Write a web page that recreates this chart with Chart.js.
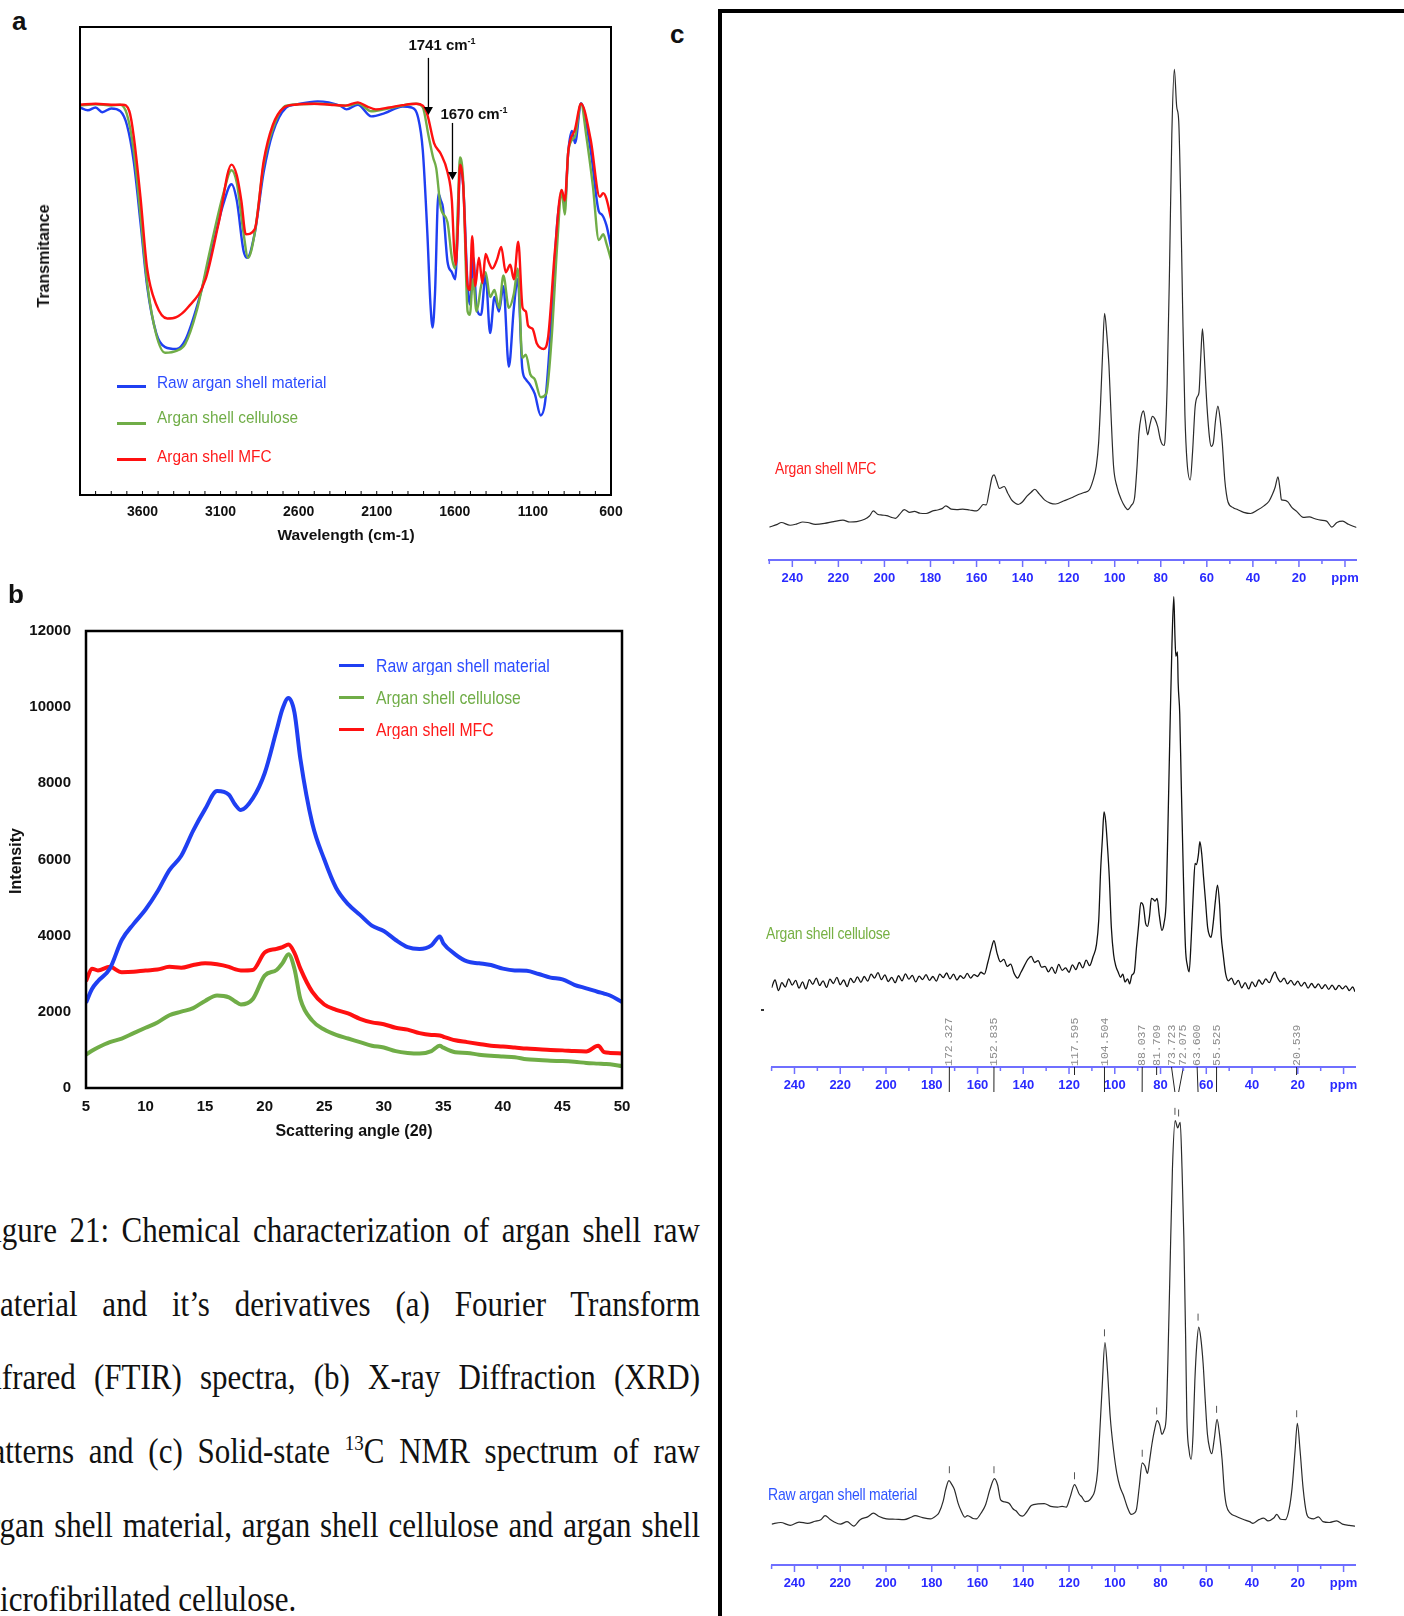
<!DOCTYPE html>
<html lang="en">
<head>
<meta charset="utf-8">
<title>Figure 21 - argan shell characterization</title>
<script src="https://cdn.jsdelivr.net/npm/chart.js@4.4.1/dist/chart.umd.min.js"></script>
<style>
  html, body { margin: 0; padding: 0; background: #fff; }
  body { width: 1404px; height: 1616px; position: relative; overflow: hidden; font-family: "Liberation Sans", Arial, sans-serif; color: #111; }
  canvas { position: absolute; }
  .t { position: absolute; white-space: nowrap; }
  .panel { font-weight: bold; font-size: 26px; line-height: 26px; }
  .ctr { transform: translate(-50%, -50%); }
  .vert { transform: translate(-50%, -50%) rotate(-90deg); }
  .ttl { font-weight: bold; font-size: 16px; line-height: 18px; }
  .leg { font-size: 15.4px; line-height: 18px; transform: scaleY(1.12); transform-origin: 0 50%; }
  .sw { position: absolute; height: 3px; }
  .spec { font-size: 14px; line-height: 16px; letter-spacing: -0.2px; transform: scaleY(1.2); transform-origin: 0 50%; }
  .note { font-weight: bold; font-size: 15px; line-height: 18px; }
  .note sup { font-size: 9px; line-height: 0; vertical-align: 6px; }
  .cap { position: absolute; left: -24px; width: 724px; font-family: "Liberation Serif", "Times New Roman", serif;
         font-size: 31px; line-height: 31px; text-align: justify; text-align-last: justify;
         transform: scaleY(1.15); transform-origin: 0 26px; }
  .cap.last { text-align-last: left; }
  .cap sup { font-size: 19px; line-height: 0; vertical-align: 11px; }
</style>
</head>
<body>

<canvas id="ftirChart" width="600" height="560" style="left:40px;top:0px"></canvas>
<canvas id="xrdChart" width="650" height="540" style="left:0px;top:600px"></canvas>
<canvas id="nmrMfcChart" width="627" height="570" style="left:749px;top:20px"></canvas>
<canvas id="nmrCelChart" width="623" height="515" style="left:752px;top:582px"></canvas>
<canvas id="nmrRawChart" width="623" height="505" style="left:752px;top:1090px"></canvas>

<!-- panel c frame -->
<div style="position:absolute;left:718px;top:9px;width:700px;height:1620px;border-top:4px solid #000;border-left:4px solid #000;box-sizing:border-box"></div>

<div class="t panel" style="left:12px;top:8px">a</div>
<div class="t panel" style="left:8px;top:581px">b</div>
<div class="t panel" style="left:670px;top:21px">c</div>

<!-- panel a texts -->
<div class="t ttl vert" style="left:44px;top:256px">Transmitance</div>
<div class="t ttl ctr" style="left:346px;top:535px;font-size:15.5px">Wavelength (cm-1)</div>
<div class="t note ctr" style="left:442px;top:45px">1741 cm<sup>-1</sup></div>
<div class="t note ctr" style="left:474px;top:114px">1670 cm<sup>-1</sup></div>

<div class="sw" style="left:117px;top:385px;width:29px;background:#1f3ff2"></div>
<div class="sw" style="left:117px;top:422px;width:29px;background:#70ad47"></div>
<div class="sw" style="left:117px;top:458px;width:29px;background:#ff1010"></div>
<div class="t leg" style="left:157px;top:373px;color:#2c4cff">Raw argan shell material</div>
<div class="t leg" style="left:157px;top:408px;color:#70ad47">Argan shell cellulose</div>
<div class="t leg" style="left:157px;top:447px;color:#ff1a1a">Argan shell MFC</div>

<!-- panel b texts -->
<div class="t ttl vert" style="left:16px;top:861px">Intensity</div>
<div class="t ttl ctr" style="left:354px;top:1131px">Scattering angle (2θ)</div>
<div class="sw" style="left:339px;top:664px;width:25px;background:#1f3ff2"></div>
<div class="sw" style="left:339px;top:696px;width:25px;background:#70ad47"></div>
<div class="sw" style="left:339px;top:728px;width:25px;background:#ff1010"></div>
<div class="t leg" style="left:376px;top:657px;font-size:15.8px;color:#2c4cff">Raw argan shell material</div>
<div class="t leg" style="left:376px;top:689px;font-size:15.8px;color:#70ad47">Argan shell cellulose</div>
<div class="t leg" style="left:376px;top:721px;font-size:15.8px;color:#ff1a1a">Argan shell MFC</div>

<!-- panel c texts -->
<div class="t spec" style="left:775px;top:460px;color:#ff2020">Argan shell MFC</div>
<div class="t spec" style="left:766px;top:925px;color:#76b043">Argan shell cellulose</div>
<div class="t spec" style="left:768px;top:1486px;color:#2f55ff">Raw argan shell material</div>
<div style="position:absolute;left:761px;top:1009px;width:3px;height:1.5px;background:#333"></div>

<!-- caption -->
<div class="cap" style="top:1216px">Figure 21: Chemical characterization of argan shell raw</div>
<div class="cap" style="top:1290px">material and it’s derivatives (a) Fourier Transform</div>
<div class="cap" style="top:1363px">Infrared (FTIR) spectra, (b) X-ray Diffraction (XRD)</div>
<div class="cap" style="top:1437px">patterns and (c) Solid-state <sup>13</sup>C NMR spectrum of raw</div>
<div class="cap" style="top:1511px">argan shell material, argan shell cellulose and argan shell</div>
<div class="cap last" style="top:1585px">microfibrillated cellulose.</div>

<script>
// ---------- (a) FTIR: wavenumber (cm-1) and transmittance (arbitrary units) ----------
const ftirRawWn = [4000, 3950, 3900, 3857, 3800, 3742, 3699, 3656, 3613, 3570, 3512, 3455, 3383, 3326, 3254, 3168, 3082, 3030, 2996, 2953,
  2930, 2881, 2824, 2766, 2680, 2623, 2479, 2336, 2293, 2221, 2135, 2049, 1934, 1877, 1834, 1805, 1776, 1756, 1742, 1727,
  1705, 1690, 1676, 1647, 1619, 1598, 1580, 1567, 1546, 1518, 1504, 1481, 1461, 1432, 1403, 1374, 1346, 1317, 1289, 1254,
  1222, 1197, 1168, 1145, 1117, 1088, 1050, 1021, 987, 944, 916, 896, 873, 850, 830, 792, 730, 678, 658, 629, 600];
const ftirRawT = [82.8, 82.2, 82.8, 81.8, 82.6, 82.0, 79.0, 71.3, 58.3, 44.6, 34.6, 31.6, 31.2, 33.1, 40.0, 50.7, 62.2, 66.4, 62.9, 52.2,
  50.7, 56.0, 69.0, 77.4, 82.8, 83.4, 84.1, 83.2, 82.4, 83.4, 80.9, 81.6, 83.0, 82.8, 80.5, 73.6, 56.0, 40.7, 35.8, 43.0,
  64.4, 63.0, 61.4, 49.9, 47.6, 46.1, 58.0, 69.8, 66.0, 44.6, 40.7, 50.7, 40.0, 38.5, 46.9, 34.6, 42.3, 39.2, 44.6, 27.4,
  40.0, 46.1, 27.0, 24.7, 23.5, 21.6, 17.0, 20.1, 34.6, 58.3, 64.4, 62.0, 73.6, 77.8, 75.2, 83.7, 73.6, 60.6, 59.9, 57.6, 53.0];

const ftirCelWn = [4000, 3900, 3800, 3742, 3699, 3656, 3613, 3570, 3512, 3455, 3383, 3326, 3254, 3168, 3082, 3030, 2996, 2953, 2924, 2881,
  2824, 2766, 2680, 2479, 2279, 2221, 2135, 2049, 1848, 1805, 1768, 1739, 1719, 1690, 1647, 1619, 1598, 1580, 1567, 1546,
  1518, 1504, 1484, 1461, 1432, 1403, 1374, 1346, 1317, 1289, 1254, 1222, 1197, 1168, 1145, 1117, 1088, 1050, 1015, 981,
  944, 916, 896, 873, 830, 792, 758, 716, 678, 649, 629, 600];
const ftirCelT = [83.2, 83.5, 83.2, 83.4, 81.3, 73.6, 59.9, 45.3, 34.3, 30.4, 30.8, 32.3, 39.2, 52.2, 64.4, 69.4, 66.7, 56.0, 50.7, 56.0,
  70.6, 78.2, 83.2, 83.6, 83.2, 83.7, 82.0, 82.4, 83.6, 82.8, 76.7, 72.1, 69.8, 61.4, 58.3, 50.7, 48.4, 62.0, 72.1, 67.0,
  39.2, 38.5, 46.1, 39.2, 44.6, 47.6, 42.3, 43.8, 40.0, 46.9, 40.0, 43.0, 48.4, 29.3, 30.0, 25.8, 24.7, 20.9, 21.6, 33.1,
  53.7, 65.2, 59.9, 73.6, 76.7, 83.6, 76.7, 66.0, 54.5, 55.7, 53.7, 50.3];

const ftirMfcWn = [4000, 3900, 3800, 3727, 3684, 3656, 3613, 3570, 3512, 3441, 3383, 3311, 3197, 3111, 3030, 2996, 2967, 2938, 2881, 2824,
  2766, 2694, 2623, 2500, 2400, 2300, 2221, 2160, 2106, 2020, 1934, 1848, 1805, 1776, 1733, 1690, 1647, 1619, 1604, 1594,
  1582, 1567, 1556, 1546, 1518, 1504, 1489, 1469, 1446, 1423, 1403, 1380, 1360, 1330, 1303, 1274, 1245, 1222, 1194, 1166,
  1145, 1131, 1102, 1074, 1031, 1002, 959, 916, 896, 873, 830, 792, 730, 672, 650, 629, 600];
const ftirMfcT = [83.4, 83.6, 83.4, 83.4, 82.0, 76.7, 63.7, 48.4, 40.7, 37.7, 38.0, 40.0, 46.0, 58.3, 70.6, 68.3, 62.9, 55.7, 56.8, 71.3,
  79.0, 82.8, 83.4, 83.6, 83.4, 83.2, 83.9, 83.0, 82.4, 82.8, 83.3, 83.6, 83.2, 81.3, 75.2, 72.9, 69.0, 62.9, 52.2, 49.2,
  56.0, 70.6, 69.5, 66.0, 44.6, 43.8, 55.3, 44.6, 50.7, 45.3, 51.5, 49.5, 48.4, 50.3, 53.0, 47.6, 49.2, 46.1, 54.1, 40.0,
  39.2, 36.2, 35.5, 32.3, 31.2, 33.9, 52.2, 65.2, 62.9, 73.6, 78.2, 83.6, 75.9, 63.7, 64.5, 63.3, 59.1];

// arrows for the 1741 / 1670 cm-1 callouts (wavenumber, start and tip in transmittance units)
const ftirArrowWn = [1769, 1615];
const ftirArrowFrom = [93.4, 79.5];
const ftirArrowTo = [81.2, 67.3];

// ---------- (b) XRD: scattering angle 2θ and intensity ----------
const xrdAngle = [5, 5.5, 6, 7, 8, 9, 10, 11, 12, 13, 14, 15, 16, 17, 17.5, 18, 19, 20, 21, 21.5,
  22, 22.5, 23, 24, 25, 26, 27, 28, 29, 30, 31, 32, 33, 34, 34.7, 35, 36, 37, 38, 39,
  40, 41, 42, 43, 44, 45, 46, 47, 48, 48.5, 49, 50];
const xrdRaw = [2240, 2600, 2805, 3134, 3887, 4310, 4687, 5158, 5722, 6099, 6758, 7323, 7800, 7700, 7450, 7300, 7605, 8264, 9393, 9958,
  10240, 9864, 8640, 6946, 6005, 5252, 4828, 4546, 4264, 4122, 3887, 3699, 3652, 3746, 3981, 3800, 3511, 3322, 3275, 3228,
  3134, 3087, 3080, 2993, 2899, 2852, 2711, 2617, 2522, 2480, 2428, 2259];
const xrdCellulose = [875, 980, 1064, 1205, 1299, 1440, 1581, 1722, 1911, 2005, 2099, 2287, 2428, 2381, 2280, 2193, 2334, 2950, 3100, 3280,
  3511, 3134, 2334, 1769, 1534, 1393, 1299, 1205, 1111, 1064, 969, 922, 904, 969, 1111, 1060, 941, 922, 875, 847,
  828, 809, 753, 734, 715, 706, 687, 659, 640, 630, 621, 574];
const xrdMfc = [2805, 3134, 3087, 3181, 3040, 3050, 3087, 3110, 3181, 3160, 3228, 3275, 3250, 3180, 3120, 3087, 3100, 3558, 3652, 3700,
  3765, 3550, 3134, 2522, 2193, 2052, 1958, 1816, 1722, 1675, 1581, 1534, 1440, 1393, 1380, 1346, 1252, 1205, 1158, 1111,
  1092, 1064, 1035, 1016, 998, 988, 969, 960, 1111, 940, 922, 904];

// ---------- (c) 13C NMR: [ppm, relative intensity] ----------
const nmrMfc = [[250, 0.8], [246.5, 1.4], [244.8, 1.8], [241, 1.2], [238, 1.5], [235.5, 1.9], [233.3, 1.8], [230, 1.4], [226, 1.6], [222, 2.0],
  [218, 2.3], [215, 1.9], [212, 2.0], [208.6, 2.5], [206.5, 3.2], [204.8, 4.3], [203, 3.6], [201, 3.4], [199, 3.3], [197, 2.9],
  [195.2, 2.7], [193.5, 3.5], [191.4, 4.6], [189, 4.0], [187, 4.2], [184.5, 3.8], [181.9, 3.75], [179, 4.3], [177, 4.5], [175, 4.8],
  [173.3, 5.4], [171, 4.7], [168.6, 4.6], [166, 4.7], [163, 4.5], [160, 4.3], [158.5, 4.9], [157.1, 5.7], [155.8, 5.6], [154.5, 8.5],
  [153.3, 11.5], [152.4, 12.1], [151.3, 10.8], [150.1, 9.2], [148, 9.6], [146.5, 8.2], [144.8, 6.7], [143, 5.9], [141.9, 5.7], [140, 6.3],
  [138.1, 7.5], [136.2, 8.4], [134.7, 9.0], [132.8, 8.0], [130.5, 6.7], [128, 6.0], [125.7, 5.8], [122, 6.5], [119, 7.1], [116, 7.8],
  [113.3, 8.3], [111, 8.9], [109.5, 10.8], [108, 14], [107, 19], [106.2, 27], [105.3, 38], [104.4, 47.1], [103.5, 43], [102.5, 35.8],
  [101.5, 24], [100.5, 14], [99, 9.5], [97.1, 6.7], [95.5, 5.2], [94.3, 4.6], [92.8, 5.5], [91.4, 7.1], [90.3, 14], [89.5, 21],
  [88.6, 24.5], [87.5, 26], [86.7, 24], [85.7, 20.8], [84.7, 23], [83.6, 24.8], [82.5, 24.2], [81.3, 22.5], [80.3, 20], [79.4, 18.75],
  [78.5, 18.5], [78.1, 20], [77.2, 32], [76.2, 56.7], [75.2, 85.8], [74.1, 100], [73.1, 92], [72.2, 88.75], [71.4, 73], [70.5, 48.3],
  [69.5, 25], [68.6, 15], [67.2, 11], [66.2, 17], [65.1, 26.7], [64.2, 29], [63.4, 30], [62.6, 38], [61.9, 43.75], [61.2, 39],
  [60.5, 32], [60, 27.5], [58.8, 20], [58.1, 18.3], [57.2, 19], [56.2, 24], [55.2, 27], [54.3, 24.5], [53.3, 19.2], [52.2, 11],
  [51.5, 8], [50.8, 6.25], [48.5, 5.0], [46.7, 4.6], [44, 4.0], [41, 3.75], [38, 4.5], [35.2, 5.4], [33, 6.4], [31.5, 7.9],
  [30.3, 9.5], [29.1, 11.7], [28.2, 9], [27.6, 6.7], [26, 6.6], [24.8, 6.25], [23, 5.0], [21, 4.2], [18.1, 2.9], [15.5, 3.0],
  [13, 2.6], [10.5, 2.3], [8, 2.1], [5.7, 0.8], [3.5, 1.8], [1, 2.1], [-1.5, 1.4], [-5, 0.7]];

const nmrCel = [[250, -0.5], [248.5, 1.5], [247, -1.2], [245.5, 0.8], [244, -0.3], [242.5, 1.8], [241, 0.2], [239.5, 1.4], [238, -0.6], [236.5, 1.0],
  [235, -0.8], [233.5, 1.6], [232, 0.4], [230.5, 2.0], [229, 0.1], [227.5, 1.3], [226, -0.4], [224.5, 1.7], [223, 0.6], [221.5, 2.2],
  [220, 0.3], [218.5, 1.5], [217, -0.2], [215.5, 1.9], [214, 0.8], [212.5, 2.3], [211, 0.9], [209.5, 2.4], [208, 1.2], [206.5, 3.0],
  [205, 2.0], [203.5, 3.4], [202, 1.6], [200.5, 2.8], [199, 1.1], [197.5, 2.2], [196, 0.8], [194.5, 2.6], [193, 1.3], [191.5, 3.1],
  [190, 1.7], [188.5, 2.7], [187, 1.0], [185.5, 2.5], [184, 1.6], [182.5, 2.9], [181, 1.4], [179.5, 2.4], [178, 1.2], [176.5, 3.0],
  [175, 2.1], [173.5, 3.3], [172, 1.8], [170.5, 3.0], [169, 1.5], [167.5, 2.6], [166, 1.9], [164.5, 3.2], [163, 2.0], [161.5, 2.9],
  [160, 2.4], [158.5, 3.5], [157, 3.0], [155.5, 6.0], [154, 9.5], [152.8, 11.6], [151.5, 8.5], [150, 6.2], [148.5, 6.8], [147, 5.0],
  [145.5, 5.6], [144, 3.2], [142.5, 2.0], [141, 3.5], [139.5, 5.2], [138, 6.8], [136.5, 7.6], [135, 6.0], [133.5, 6.5], [132, 4.8],
  [130.5, 5.0], [129, 3.6], [127.5, 4.8], [126, 3.2], [124.5, 5.5], [123, 4.0], [121.5, 4.6], [120, 3.5], [118.5, 5.4], [117, 4.2],
  [115.5, 6.0], [114, 4.6], [112.5, 6.6], [111, 5.2], [109.5, 7.5], [108, 10.6], [107, 17], [106.2, 29.5], [105.4, 38], [104.7, 44.8],
  [104, 42.5], [103.2, 36], [102.4, 28], [101.5, 15], [100.5, 8], [99.5, 5.0], [98.5, 3.5], [97.5, 2.2], [96.5, 3.0], [95.5, 1.0],
  [94.4, 1.8], [93.5, 0.5], [92.5, 2.8], [91.5, 3.5], [90.5, 10], [89.6, 15.5], [88.6, 21.4], [87.5, 20.5], [86.5, 16], [85.7, 15.3],
  [84.8, 18], [84, 22.5], [83.2, 22.3], [82.4, 21.8], [81.5, 22.5], [80.5, 18], [79.4, 14.3], [78.5, 16], [77.5, 22.3], [76.8, 40],
  [75.9, 65.2], [75, 88], [74.2, 100.2], [73.7, 90], [73.3, 84.8], [72.6, 86], [72.3, 78.1], [71.6, 70], [71, 53.6], [70, 28],
  [69.1, 9.8], [68.2, 5], [67.5, 3.6], [66.6, 12], [65.6, 25], [64.9, 31.5], [64.3, 31.2], [63.5, 33.5], [62.8, 37.1], [62, 34],
  [61.2, 28], [60.4, 22.3], [59.4, 15], [58.5, 12.8], [57.9, 12.5], [57, 16], [56, 22], [55.1, 25.9], [54.2, 21], [53.5, 13],
  [52.6, 8], [51.5, 3.0], [50.3, 1.3], [49, 2.0], [47.5, 0.3], [46, 1.4], [44.5, -0.5], [43, 0.8], [41.5, -0.8], [40, 1.0],
  [38.5, -0.2], [37, 1.5], [35.5, 0.4], [34, 1.8], [32.5, 0.8], [31, 2.7], [30, 3.6], [29, 2.2], [27.5, 1.0], [26, 2.0],
  [24.5, 0.5], [23, 1.4], [21.5, 0.2], [20, 1.2], [18.5, -0.1], [17, 0.9], [15.5, -0.6], [14, 0.6], [12.5, -0.5], [11, 0.5],
  [9.5, -0.7], [8, 0.3], [6.5, -0.9], [5, 0.2], [3.5, -1.0], [2, 0.1], [0.5, -0.8], [-1, 0.0], [-2.5, -1.2], [-4, -0.3], [-5, -1.5]];

const nmrRaw = [[250, -0.2], [246, 0.2], [241.9, -0.5], [238, 0.3], [234.3, 0], [231, 0.5], [228.5, 0.9], [226.6, 1.9], [224.5, 1.0], [222.8, 0.4],
  [219.9, -0.2], [217, 0.4], [214.1, -0.7], [211.3, 0.9], [208, 1.6], [205.5, 2.5], [203, 1.7], [199.8, 1.1], [196, 1.0], [192.1, 0.9],
  [189, 1.5], [187.3, 1.9], [184, 1.4], [180.6, 1.1], [178, 1.9], [176.8, 2.7], [175, 5.5], [173.9, 8.4], [172.5, 10.6], [171.2, 9.6],
  [170.1, 8.4], [168.5, 5.0], [167.2, 3.1], [165.5, 1.5], [164.4, 1.9], [162, 1.2], [160.5, 1.1], [158.5, 2.5], [156.6, 4.4], [154.5, 8.5],
  [152.6, 11.1], [151.2, 9.5], [149.9, 5.8], [148, 5.3], [146.1, 4.9], [144.5, 3.6], [143.2, 3.1], [141.5, 2.0], [140.3, 1.8], [138.5, 2.8],
  [136.5, 4.4], [133.5, 4.8], [130.8, 4.9], [128, 4.2], [125, 4.0], [123, 4.2], [121.2, 4.0], [119.5, 6.5], [117.6, 9.6], [115.5, 7.2],
  [114.5, 6.6], [113, 5.4], [111.6, 5.5], [110, 6.5], [108.8, 8.0], [107.5, 13], [106.6, 22.1], [105.5, 34], [104.3, 44.9], [103.2, 38],
  [102, 26.5], [100.5, 18], [99.1, 12.4], [97.7, 9], [96.3, 7.1], [94.5, 4.0], [92.8, 2.2], [91.5, 2.5], [90.5, 3.5], [89.3, 9],
  [88, 15], [86.8, 14.2], [85.7, 12.4], [84.8, 15.5], [83.8, 19.5], [82.5, 23.5], [81.5, 25.5], [80.4, 24.5], [79.4, 22.1], [78.5, 23],
  [77.5, 26.5], [76.8, 40], [75.9, 61.9], [74.8, 88], [73.6, 100], [72.5, 98.2], [71.4, 99.6], [70.6, 88], [69.8, 70.8], [69, 45],
  [68.5, 26.5], [67.5, 18], [66.6, 15.9], [65.8, 22], [65, 35.4], [64.2, 44], [63.3, 48.7], [62.4, 46], [61.4, 39.8], [60.4, 30],
  [59.5, 22.1], [58.5, 18.5], [57.6, 17.3], [56.5, 21], [55.3, 25.8], [54.2, 22], [53.1, 15.9], [52.1, 8], [51.2, 4.4], [49.5, 2.5],
  [47.3, 1.8], [44, 1.0], [41, 0.4], [39.6, 0], [37, 0.9], [34.9, 1.3], [33, 0.6], [30.5, 1.3], [29.2, 2.2], [27.5, 1.0],
  [25.4, 0.9], [23.8, 3.5], [22.5, 8.8], [21.2, 18], [20.2, 24.8], [19, 18], [17.7, 8.8], [16.2, 2.5], [14.8, 1.3], [13, 1.1],
  [11, 1.6], [9, 0.4], [6.2, 0.2], [3, 0.6], [0.5, -0.2], [-2.5, -0.5], [-5, -0.7]];

// peak picking shown on the cellulose spectrum
const nmrCelPeakText = ['172.327', '152.835', '117.595', '104.504', '88.037', '81.709', '73.723', '72.075', '63.600', '55.525', '20.539'];
const nmrCelPeakPpm = [172.327, 152.835, 117.595, 104.504, 88.037, 81.709, 73.723, 72.075, 63.6, 55.525, 20.539];
const nmrCelLabelPpm = [172.3, 152.8, 117.6, 104.5, 88.0, 81.7, 75.2, 70.0, 64.0, 55.5, 20.5];
const nmrCelLinkLen = [25, 25, 8, 25, 25, 8, 25, 25, 25, 25, 8];
// small peak marks above the raw spectrum
const nmrRawMarkPpm = [172.3, 152.8, 117.6, 104.5, 88.0, 81.7, 73.7, 72.1, 63.6, 55.5, 20.5];
const nmrRawMarkI = [13.3, 13.3, 11.8, 47.3, 17.4, 27.9, 102.3, 101.9, 51.2, 28.3, 27.2];

const BLUE = '#1f3ff2', GREEN = '#70ad47', RED = '#ff1010';

Chart.defaults.font.family = '"Liberation Sans", Arial, sans-serif';
Chart.defaults.color = '#111';

const pts = (xs, ys) => xs.map((x, i) => ({ x, y: ys[i] }));

function line(label, data, color, width, order) {
  return { label, data, borderColor: color, backgroundColor: color, borderWidth: width, pointRadius: 0,
           fill: false, cubicInterpolationMode: 'monotone', order };
}

// box around the plot area
const framePlugin = {
  id: 'frame',
  afterDraw(chart, args, o) {
    const { ctx, chartArea: a } = chart;
    ctx.save();
    ctx.strokeStyle = '#000';
    ctx.lineWidth = o.width;
    ctx.strokeRect(a.left, a.top, a.right - a.left, a.bottom - a.top);
    ctx.restore();
  }
};

// tick marks on the x axis (inward or outward, major / minor)
const axisTicksPlugin = {
  id: 'axisTicks',
  afterDraw(chart, args, o) {
    const s = chart.scales.x, ctx = chart.ctx, y0 = chart.chartArea.bottom;
    ctx.save();
    ctx.strokeStyle = o.color;
    ctx.lineWidth = o.lineWidth;
    s.ticks.forEach(t => {
      if (t.value % o.every !== 0) return;
      const len = t.value % o.majorEvery === 0 ? o.major : o.minor;
      const px = s.getPixelForValue(t.value);
      ctx.beginPath();
      ctx.moveTo(px, y0);
      ctx.lineTo(px, y0 + o.dir * len);
      ctx.stroke();
    });
    ctx.restore();
  }
};

const ftirArrowPlugin = {
  id: 'ftirArrows',
  afterDatasetsDraw(chart) {
    const { ctx, scales: { x, y } } = chart;
    ctx.save();
    ctx.strokeStyle = '#000';
    ctx.fillStyle = '#000';
    ctx.lineWidth = 1.3;
    ftirArrowWn.forEach((wn, i) => {
      const px = x.getPixelForValue(wn);
      const top = y.getPixelForValue(ftirArrowFrom[i]);
      const tip = y.getPixelForValue(ftirArrowTo[i]);
      ctx.beginPath(); ctx.moveTo(px, top); ctx.lineTo(px, tip - 7); ctx.stroke();
      ctx.beginPath(); ctx.moveTo(px - 4.5, tip - 8); ctx.lineTo(px + 4.5, tip - 8); ctx.lineTo(px, tip); ctx.closePath(); ctx.fill();
    });
    ctx.restore();
  }
};

const celPeaksPlugin = {
  id: 'celPeaks',
  afterDatasetsDraw(chart) {
    const { ctx, scales: { x }, chartArea: a } = chart;
    ctx.save();
    ctx.font = '11.5px "Liberation Mono", "DejaVu Sans Mono", monospace';
    ctx.fillStyle = '#8c8c8c';
    ctx.textAlign = 'left';
    ctx.textBaseline = 'middle';
    nmrCelLabelPpm.forEach((p, i) => {
      ctx.save();
      ctx.translate(x.getPixelForValue(p), a.bottom - 1);
      ctx.rotate(-Math.PI / 2);
      ctx.fillText(nmrCelPeakText[i], 0, 0);
      ctx.restore();
    });
    ctx.strokeStyle = '#222';
    ctx.lineWidth = 1;
    nmrCelLabelPpm.forEach((p, i) => {
      ctx.beginPath();
      ctx.moveTo(x.getPixelForValue(p), a.bottom);
      ctx.lineTo(x.getPixelForValue(nmrCelPeakPpm[i]), a.bottom + nmrCelLinkLen[i]);
      ctx.stroke();
    });
    ctx.restore();
  }
};

const rawMarksPlugin = {
  id: 'rawMarks',
  afterDatasetsDraw(chart) {
    const { ctx, scales: { x, y } } = chart;
    ctx.save();
    ctx.strokeStyle = '#555';
    ctx.lineWidth = 1;
    nmrRawMarkPpm.forEach((p, i) => {
      const px = x.getPixelForValue(p), py = y.getPixelForValue(nmrRawMarkI[i]);
      ctx.beginPath(); ctx.moveTo(px, py - 3.5); ctx.lineTo(px, py + 3.5); ctx.stroke();
    });
    ctx.restore();
  }
};

const common = { responsive: false, animation: false, devicePixelRatio: 1, events: [] };
const quiet = { legend: { display: false }, tooltip: { enabled: false } };

// (a) FTIR
new Chart(document.getElementById('ftirChart'), {
  type: 'line',
  data: { datasets: [
    line('Raw argan shell material', pts(ftirRawWn, ftirRawT), BLUE, 2.4, 3),
    line('Argan shell cellulose', pts(ftirCelWn, ftirCelT), GREEN, 2.4, 2),
    line('Argan shell MFC', pts(ftirMfcWn, ftirMfcT), RED, 2.4, 1)
  ] },
  options: {
    ...common,
    layout: { padding: { left: 40, right: 29, top: 27, bottom: 37 } },
    scales: {
      x: { type: 'linear', reverse: true, min: 600, max: 4000,
           grid: { display: false, drawTicks: false }, border: { display: false },
           ticks: { stepSize: 100, autoSkip: false, maxRotation: 0, padding: 8.6, color: '#111',
                    font: { size: 14, weight: 'bold' },
                    callback: v => (v - 600) % 500 === 0 ? String(v) : '' },
           afterFit: s => { s.height = 28; } },
      y: { display: false, min: 0, max: 100 }
    },
    plugins: { ...quiet, frame: { width: 2 },
               axisTicks: { every: 100, majorEvery: 100, major: 4, minor: 4, dir: -1, color: '#000', lineWidth: 1 } }
  },
  plugins: [framePlugin, axisTicksPlugin, ftirArrowPlugin]
});

// (b) XRD
new Chart(document.getElementById('xrdChart'), {
  type: 'line',
  data: { datasets: [
    line('Raw argan shell material', pts(xrdAngle, xrdRaw), BLUE, 4, 1),
    line('Argan shell cellulose', pts(xrdAngle, xrdCellulose), GREEN, 4, 3),
    line('Argan shell MFC', pts(xrdAngle, xrdMfc), RED, 4, 2)
  ] },
  options: {
    ...common,
    layout: { padding: { left: 0, right: 28, top: 31, bottom: 26 } },
    scales: {
      x: { type: 'linear', min: 5, max: 50,
           grid: { display: false, drawTicks: false }, border: { display: false },
           ticks: { stepSize: 5, autoSkip: false, maxRotation: 0, padding: 10, color: '#111',
                    font: { size: 15, weight: 'bold' }, callback: v => String(v) },
           afterFit: s => { s.height = 26; } },
      y: { min: 0, max: 12000,
           grid: { display: false, drawTicks: false }, border: { display: false },
           ticks: { stepSize: 2000, padding: 15, color: '#111', font: { size: 15, weight: 'bold' }, callback: v => String(v) },
           afterFit: s => { s.width = 86; } }
    },
    plugins: { ...quiet, frame: { width: 2.5 } }
  },
  plugins: [framePlugin]
});

// (c) NMR spectra
function nmrChart(id, spectrum, color, width, yMin, yMax, pad, extra) {
  return new Chart(document.getElementById(id), {
    type: 'line',
    data: { datasets: [line('', spectrum.map(([x, y]) => ({ x, y })), color, width, 1)] },
    options: {
      ...common,
      layout: { padding: { left: pad[0], right: pad[1], top: pad[2], bottom: 0 } },
      scales: {
        x: { type: 'linear', reverse: true, min: -5, max: 250,
             grid: { display: false, drawTicks: false }, border: { display: true, color: '#6f6fff', width: 2 },
             ticks: { stepSize: 10, includeBounds: false, autoSkip: false, maxRotation: 0, padding: 10.5,
                      color: '#2a2aff', font: { size: 13, weight: 'bold' },
                      callback: v => v === 0 ? 'ppm' : (v >= 20 && v <= 240 && v % 20 === 0 ? String(v) : '') },
             afterFit: s => { s.height = 30; } },
        y: { display: false, min: yMin, max: yMax }
      },
      plugins: { ...quiet, axisTicks: { every: 10, majorEvery: 20, major: 7, minor: 4, dir: 1, color: '#6f6fff', lineWidth: 1.5 } }
    },
    plugins: [axisTicksPlugin].concat(extra)
  });
}

nmrChart('nmrMfcChart', nmrMfc, '#2b2b2b', 1.2, -6.33, 106.35, [20.3, 19.5, 20], []);
nmrChart('nmrCelChart', nmrCel, '#111', 1.3, -20.9, 101.4, [19.6, 20, 10], [celPeaksPlugin]);
nmrChart('nmrRawChart', nmrRaw, '#2b2b2b', 1.2, -10.36, 105.12, [19.6, 20, 10], [rawMarksPlugin]);
</script>
</body>
</html>
